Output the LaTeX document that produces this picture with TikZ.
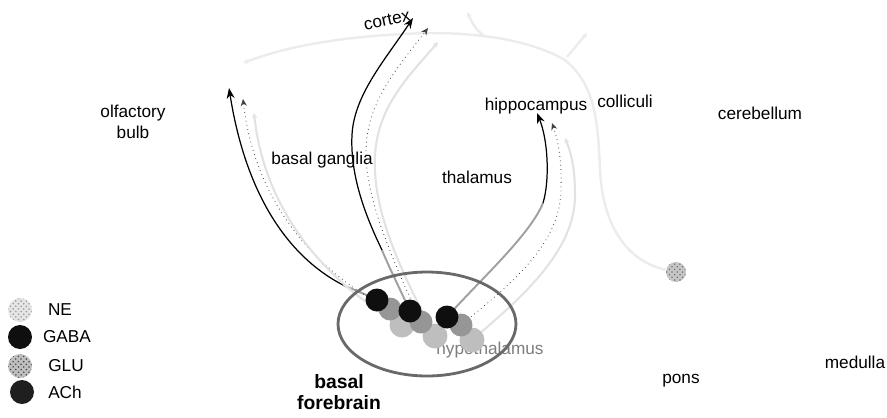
\documentclass[tikz,border=0pt]{standalone}
\usepackage{fontspec}
\setmainfont{Liberation Sans}
\usetikzlibrary{arrows.meta, patterns, backgrounds, shapes.geometric}
\definecolor{cellblack}{RGB}{15,15,15}
\definecolor{cellmid}{RGB}{150,150,150}
\definecolor{celllight}{RGB}{190,190,190}
\definecolor{rimgray}{RGB}{105,105,105}
\definecolor{labelgray}{RGB}{125,125,125}
\definecolor{fibergray}{RGB}{236,236,236}
\definecolor{faintgray}{RGB}{226,226,226}
\definecolor{axongray}{RGB}{160,160,160}

\tikzset{
  region/.style={font=\fontsize{9.8}{12}\selectfont, align=center, inner sep=0pt},
  cellbase/.style={circle, inner sep=0pt, minimum size=0.46cm},
  blackcell/.style={cellbase, fill=cellblack},
  midcell/.style={cellbase, fill=cellmid},
  lightcell/.style={cellbase, fill=celllight, minimum size=0.5cm},
  axon/.style={black, line width=0.7pt, -{Stealth[length=6pt, width=4.5pt]}},
  axonfade/.style={axongray, line width=1.1pt},
  dotaxon/.style={black!75, line width=0.45pt, dotted, -{Stealth[length=4pt, width=3.5pt]}},
  faintaxon/.style={faintgray, line width=1.2pt, -{Stealth[length=3pt, width=3pt]}},
  nefiber/.style={fibergray, line width=1.4pt, -{Stealth[length=3pt, width=3pt]}},
}

\begin{document}
\begin{tikzpicture}[x=0.02cm, y=-0.02cm]
\useasboundingbox (0,0) rectangle (887,417);

% === regions ===
\node[region] (olf) at (133,122) {olfactory\\bulb};
\node[region, rotate=12] (ctx) at (387,20) {cortex};
\node[region] (bg) at (322,160) {basal ganglia};
\node[region] (thal) at (477,177) {thalamus};
\node[region] (hip) at (536,106) {hippocampus};
\node[region] (coll) at (625,101) {colliculi};
\node[region] (cereb) at (760,113) {cerebellum};
\node[region] (pons) at (681,381) {pons};
\node[region] (med) at (855,362) {medulla};
\node[region, text=labelgray] (hyp) at (490,350) {hypothalamus};
\node[region, font=\bfseries\fontsize{11}{11.5}\selectfont] (bf) at (339,392) {basal\\forebrain};

% === basal forebrain ===
\node[draw=rimgray, line width=1.6pt, ellipse, minimum width=3.56cm, minimum height=2.08cm] (bfring) at (427,324) {};
\node[lightcell] (lA) at (402,325) {};
\node[lightcell] (lB) at (435,336) {};
\node[lightcell] (lC) at (472,340) {};
\node[midcell] (mA) at (390,309) {};
\node[midcell] (mB) at (421,322) {};
\node[midcell] (mC) at (461,325) {};
\node[blackcell] (bA) at (377,300) {};
\node[blackcell] (bB) at (410,311) {};
\node[blackcell] (bC) at (447,317) {};

% locus cell in the brainstem
\node[cellbase, minimum size=0.4cm, preaction={fill=gray!45}, pattern=crosshatch dots, pattern color=black!55] (lc) at (676,272) {};

% arrow ends
\coordinate (olfTip) at (229,88);
\coordinate (olfDot) at (243,99);
\coordinate (olfFaint) at (254,113);
\coordinate (olfSplit) at (343,285);
\coordinate (ctxTip) at (413,18);
\coordinate (ctxDot) at (428,28);
\coordinate (ctxFaint) at (438,42);
\coordinate (ctxSplit) at (382,250);
\coordinate (hipTip) at (537,113);
\coordinate (hipDot) at (552,123);
\coordinate (hipFaint) at (565,138);
\coordinate (hipSplit) at (543,203);
\coordinate (neTip) at (243,63);
\coordinate (neForkA) at (485,37);
\coordinate (neTipA) at (467,12);
\coordinate (neForkB) at (567,57);
\coordinate (neTipB) at (587,33);

\begin{pgfonlayer}{background}
% brainstem fibre along the top
\draw[nefiber] (lc) .. controls (630,262) and (603,230) .. (600,170)
  .. controls (598,120) and (595,85) .. (565,60) .. controls (530,40) and (480,33) .. (430,33)
  .. controls (350,35) and (290,45) .. (neTip);
\draw[nefiber] (neForkA) .. controls (475,28) .. (neTipA);
\draw[nefiber] (neForkB) -- (neTipB);

% to olfactory bulb
\draw[axonfade] (bA.center) .. controls (365,294) and (352,289) .. (olfSplit);
\draw[axon] (olfSplit) .. controls (285,255) and (245,190) .. (olfTip);
\draw[dotaxon] (mA.center) .. controls (320,275) and (255,205) .. (olfDot);
\draw[faintaxon] (lA.center) .. controls (330,285) and (265,215) .. (olfFaint);

% to cortex
\draw[axonfade] (bB.center) .. controls (398,285) and (388,265) .. (ctxSplit);
\draw[axon] (ctxSplit) .. controls (365,215) and (350,175) .. (352,135)
  .. controls (354,95) and (385,60) .. (ctxTip);
\draw[dotaxon] (mB.center) .. controls (395,265) and (365,200) .. (366,150)
  .. controls (367,100) and (400,65) .. (ctxDot);
\draw[faintaxon] (lB.center) .. controls (400,270) and (372,210) .. (375,155)
  .. controls (378,105) and (410,75) .. (ctxFaint);

% to hippocampus
\draw[axonfade] (bC.center) .. controls (480,280) and (530,235) .. (hipSplit);
\draw[axon] (hipSplit) .. controls (550,180) and (548,140) .. (hipTip);
\draw[dotaxon] (mC.center) .. controls (510,285) and (560,245) .. (561,190)
  .. controls (562,160) and (558,140) .. (hipDot);
\draw[faintaxon] (lC.center) .. controls (525,295) and (575,250) .. (575,195)
  .. controls (575,165) and (570,150) .. (hipFaint);
\end{pgfonlayer}

% === legend ===
\node[cellbase, minimum size=0.48cm, preaction={fill=gray!20}, pattern=crosshatch dots, pattern color=gray!80] (legNE) at (20,310) {};
\node[cellbase, minimum size=0.48cm, fill=cellblack] (legGABA) at (20,337) {};
\node[cellbase, minimum size=0.48cm, preaction={fill=gray!50}, pattern=crosshatch dots, pattern color=black!70] (legGLU) at (20,366) {};
\node[cellbase, minimum size=0.48cm, fill=black!88] (legACh) at (22,392) {};
\node[region] (txtNE) at (60,310) {NE};
\node[region] (txtGABA) at (67,337) {GABA};
\node[region] (txtGLU) at (66,366) {GLU};
\node[region] (txtACh) at (65,392) {ACh};

\end{tikzpicture}
\end{document}
